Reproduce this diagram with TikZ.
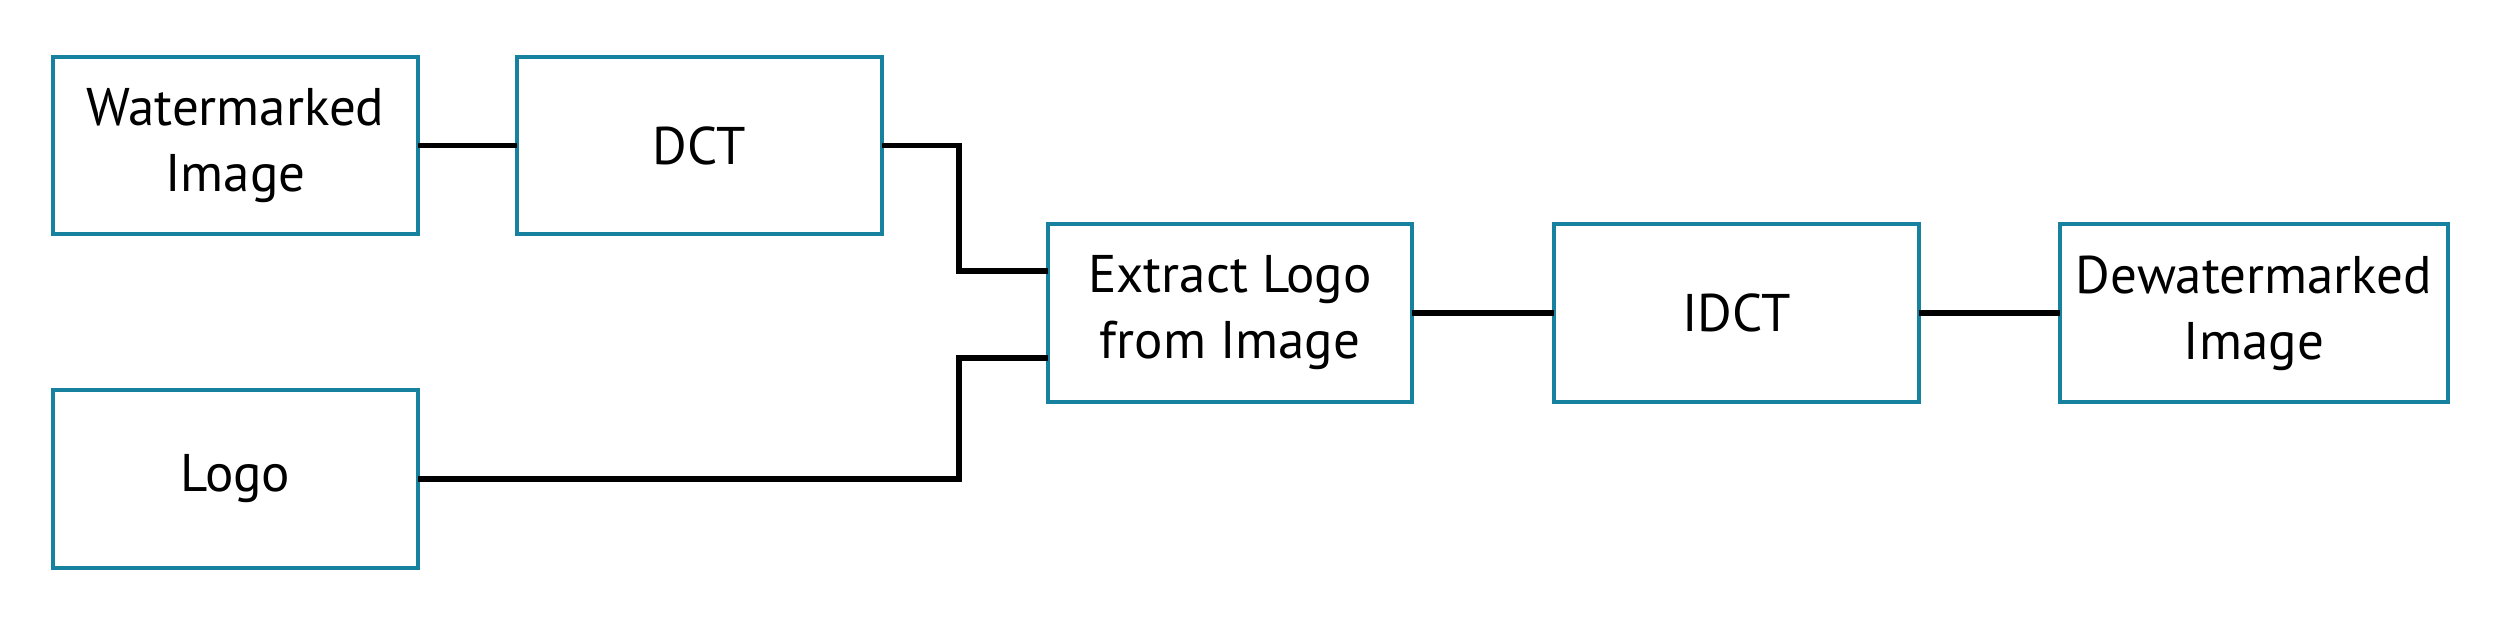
\documentclass[tikz,border=0pt]{standalone}
\usepackage{fontspec}
\setmainfont{PT Sans}
\definecolor{boxteal}{RGB}{22,130,160}
\begin{document}
\begin{tikzpicture}[x=0.5pt,y=-0.5pt,
  blk/.style={draw=boxteal,line width=2pt,fill=white,inner sep=0pt,outer sep=0pt,
    minimum width=182.5pt,minimum height=88.5pt,align=center,
    font=\fontsize{26.5pt}{33pt}\selectfont},
  conn/.style={draw=black,line width=2.9pt}]
\useasboundingbox (0,0) rectangle (2500,625);
\node[blk] (wm) at (235.5,145.5) {Watermarked\\Image};
\node[blk] (dct) at (699,145.5) {DCT};
\node[blk] (logo) at (235.5,479) {Logo};
\node[blk,minimum width=182pt,minimum height=89pt] (ext) at (1230,313) {Extract Logo\\from Image};
\node[blk,minimum height=89pt] (idct) at (1736.5,313) {IDCT};
\node[blk,minimum width=194pt,minimum height=89pt] (dew) at (2254,313) {Dewatermarked\\Image};
\coordinate (j1) at (959,271);
\coordinate (j2) at (959,358);
\draw[conn] (wm.east) -- (dct.west);
\draw[conn] (dct.east) -| (j1) -- (j1 -| ext.west);
\draw[conn] (logo.east) -| (j2) -- (j2 -| ext.west);
\draw[conn] (ext.east) -- (idct.west);
\draw[conn] (idct.east) -- (dew.west);
\end{tikzpicture}
\end{document}
